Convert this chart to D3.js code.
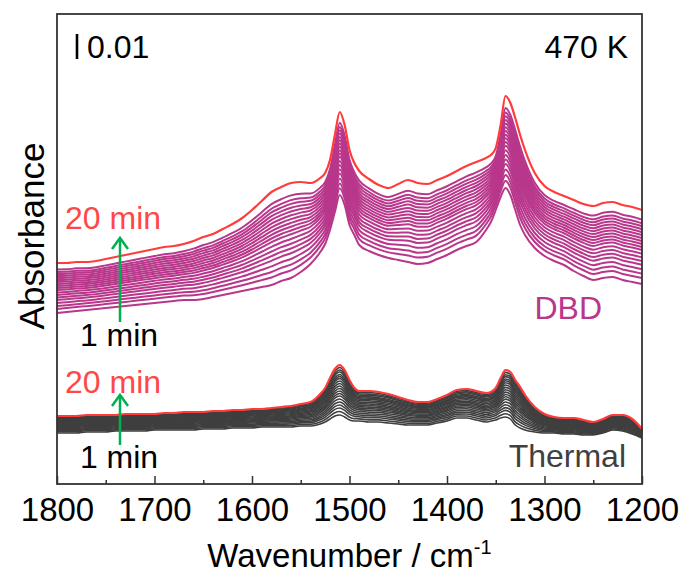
<!DOCTYPE html>
<html>
<head>
<meta charset="utf-8">
<script src="https://cdn.jsdelivr.net/npm/d3@7/dist/d3.min.js"></script>
<style>
  html, body { margin: 0; padding: 0; background: #fff; }
  svg { display: block; font-family: "Liberation Sans", Arial, sans-serif; }
</style>
</head>
<body>
<svg id="chart" width="684" height="579"></svg>
<script>
// Wavenumber grid (cm-1) shared by every spectrum
const wavenumbers = [1800, 1790, 1780, 1770, 1760, 1750, 1740, 1730, 1720, 1710,
  1700, 1690, 1680, 1670, 1660, 1650, 1640, 1630, 1620, 1610,
  1600, 1590, 1580, 1570, 1560, 1550, 1540, 1530, 1525, 1520,
  1515, 1510, 1505, 1500, 1495, 1490, 1480, 1470, 1460, 1450,
  1440, 1430, 1420, 1410, 1400, 1390, 1380, 1370, 1360, 1355,
  1350, 1345, 1340, 1335, 1330, 1325, 1320, 1310, 1300, 1290,
  1280, 1270, 1260, 1250, 1240, 1230, 1220, 1210, 1200];

// DBD, 1 min spectrum (absorbance, stacked offset)
const dbdFirst = [0.0684, 0.0688, 0.0692, 0.0696, 0.0700, 0.0704, 0.0708, 0.0712, 0.0716, 0.0720,
  0.0724, 0.0728, 0.0732, 0.0736, 0.0736, 0.0740, 0.0748, 0.0756, 0.0764, 0.0772,
  0.0780, 0.0788, 0.0796, 0.0812, 0.0824, 0.0848, 0.0880, 0.0928, 0.0960, 0.1016,
  0.1088, 0.1156, 0.1116, 0.1036, 0.0996, 0.0956, 0.0932, 0.0916, 0.0904, 0.0896,
  0.0888, 0.0880, 0.0884, 0.0900, 0.0916, 0.0936, 0.0952, 0.0968, 0.1016, 0.1048,
  0.1096, 0.1148, 0.1184, 0.1156, 0.1096, 0.1036, 0.0996, 0.0944, 0.0912, 0.0892,
  0.0876, 0.0852, 0.0832, 0.0816, 0.0824, 0.0828, 0.0816, 0.0808, 0.0800];

// DBD, 20 min spectrum
const dbdLast = [0.0884, 0.0884, 0.0888, 0.0888, 0.0892, 0.0900, 0.0908, 0.0916, 0.0924, 0.0932,
  0.0940, 0.0948, 0.0952, 0.0960, 0.0972, 0.0988, 0.1000, 0.1020, 0.1040, 0.1064,
  0.1096, 0.1132, 0.1168, 0.1188, 0.1204, 0.1208, 0.1204, 0.1224, 0.1244, 0.1296,
  0.1396, 0.1488, 0.1436, 0.1336, 0.1284, 0.1252, 0.1220, 0.1196, 0.1184, 0.1200,
  0.1216, 0.1204, 0.1200, 0.1216, 0.1232, 0.1252, 0.1272, 0.1288, 0.1304, 0.1316,
  0.1344, 0.1436, 0.1552, 0.1524, 0.1464, 0.1396, 0.1336, 0.1244, 0.1192, 0.1168,
  0.1152, 0.1136, 0.1120, 0.1112, 0.1124, 0.1128, 0.1116, 0.1108, 0.1096];

// Thermal, 1 min spectrum
const thermalFirst = [0.0204, 0.0204, 0.0204, 0.0208, 0.0208, 0.0208, 0.0212, 0.0212, 0.0212, 0.0212,
  0.0216, 0.0216, 0.0216, 0.0216, 0.0216, 0.0220, 0.0220, 0.0220, 0.0224, 0.0224,
  0.0224, 0.0228, 0.0228, 0.0228, 0.0228, 0.0232, 0.0232, 0.0240, 0.0248, 0.0260,
  0.0272, 0.0276, 0.0268, 0.0256, 0.0252, 0.0252, 0.0248, 0.0248, 0.0244, 0.0240,
  0.0236, 0.0236, 0.0236, 0.0244, 0.0252, 0.0264, 0.0264, 0.0256, 0.0248, 0.0252,
  0.0256, 0.0264, 0.0268, 0.0260, 0.0236, 0.0224, 0.0216, 0.0208, 0.0204, 0.0204,
  0.0200, 0.0200, 0.0196, 0.0196, 0.0204, 0.0216, 0.0212, 0.0200, 0.0184];

// Thermal, 20 min spectrum
const thermalLast = [0.0272, 0.0272, 0.0272, 0.0276, 0.0276, 0.0276, 0.0276, 0.0280, 0.0280, 0.0280,
  0.0280, 0.0284, 0.0284, 0.0288, 0.0288, 0.0288, 0.0292, 0.0292, 0.0296, 0.0296,
  0.0300, 0.0300, 0.0304, 0.0308, 0.0312, 0.0320, 0.0328, 0.0360, 0.0384, 0.0424,
  0.0460, 0.0476, 0.0456, 0.0416, 0.0384, 0.0372, 0.0372, 0.0368, 0.0360, 0.0348,
  0.0336, 0.0328, 0.0328, 0.0340, 0.0356, 0.0376, 0.0380, 0.0372, 0.0364, 0.0368,
  0.0384, 0.0424, 0.0456, 0.0448, 0.0416, 0.0388, 0.0356, 0.0308, 0.0280, 0.0268,
  0.0264, 0.0264, 0.0256, 0.0248, 0.0260, 0.0276, 0.0276, 0.0260, 0.0220];

// Relative growth of each scan (1..20 min) between the first and last spectrum
const dbdLevels = [0, 0.08, 0.14, 0.20, 0.26, 0.31, 0.36, 0.41, 0.46, 0.50,
  0.54, 0.58, 0.62, 0.66, 0.70, 0.74, 0.78, 0.82, 0.87, 1];
const thermalLevels = [0, 0.07, 0.14, 0.20, 0.26, 0.32, 0.38, 0.43, 0.48, 0.53,
  0.58, 0.63, 0.68, 0.73, 0.77, 0.81, 0.86, 0.90, 0.95, 1];

const majorTicks = [1800, 1700, 1600, 1500, 1400, 1300, 1200];
const minorTicks = [1750, 1650, 1550, 1450, 1350, 1250];

const colors = {
  dbd: "#b8378b",
  thermal: "#3f3f3f",
  last: "#ff3b3b",
  lastText: "#ff4747",
  arrow: "#00b050",
  frame: "#333333"
};

const W = 684, H = 579;
const margin = { left: 57, right: 42, top: 14, bottom: 95 };
const svg = d3.select("#chart");

const x = d3.scaleLinear().domain([1800, 1200]).range([margin.left, W - margin.right]);
const y = d3.scaleLinear().domain([0, 0.188]).range([H - margin.bottom, margin.top]);

function buildScans(first, last, levels) {
  return levels.map(f => wavenumbers.map((w, i) => ({ w, a: first[i] + f * (last[i] - first[i]) })));
}

const line = d3.line().x(d => x(d.w)).y(d => y(d.a)).curve(d3.curveMonotoneX);

const plot = svg.append("g");

function drawFamily(scans, color, width) {
  const n = scans.length;
  plot.append("g").selectAll("path")
    .data(scans.slice(0, n - 1))
    .join("path")
    .attr("d", line)
    .attr("fill", "none")
    .attr("stroke", color)
    .attr("stroke-width", width)
    .attr("stroke-linejoin", "round");
  plot.append("path")
    .attr("d", line(scans[n - 1]))
    .attr("fill", "none")
    .attr("stroke", colors.last)
    .attr("stroke-width", 2.2)
    .attr("stroke-linejoin", "round");
}

drawFamily(buildScans(thermalFirst, thermalLast, thermalLevels), colors.thermal, 1.6);
drawFamily(buildScans(dbdFirst, dbdLast, dbdLevels), colors.dbd, 2);

// Bottom axis: inward major and minor ticks
const x0 = x.range()[0], x1 = x.range()[1];
const yb = y.range()[0], yt = y.range()[1];

const axisMajor = d3.axisBottom(x).tickValues(majorTicks).tickSize(-8).tickFormat(d3.format("d"));
const gx = svg.append("g").attr("transform", `translate(0,${yb})`).call(axisMajor);
gx.select(".domain").remove();
gx.selectAll(".tick line").attr("stroke", colors.frame).attr("stroke-width", 1.5);
gx.selectAll(".tick text")
  .attr("y", 37).attr("dy", null)
  .attr("fill", "#000")
  .style("font-size", "33px")
  .style("font-family", "'Liberation Sans', Arial, sans-serif");

const axisMinor = d3.axisBottom(x).tickValues(minorTicks).tickSize(-4).tickFormat("");
const gm = svg.append("g").attr("transform", `translate(0,${yb})`).call(axisMinor);
gm.select(".domain").remove();
gm.selectAll(".tick line").attr("stroke", colors.frame).attr("stroke-width", 1.5);

// Frame
svg.append("rect")
  .attr("x", x0).attr("y", yt)
  .attr("width", x1 - x0).attr("height", yb - yt)
  .attr("fill", "none").attr("stroke", colors.frame).attr("stroke-width", 1.8);

// Axis titles
const xt = svg.append("text")
  .attr("x", (x0 + x1) / 2).attr("y", 567)
  .attr("text-anchor", "middle")
  .style("font-size", "33px");
xt.append("tspan").text("Wavenumber / cm");
xt.append("tspan").attr("dy", -13).style("font-size", "20px").text("-1");

svg.append("text")
  .attr("transform", "translate(44,236) rotate(-90)")
  .attr("text-anchor", "middle")
  .style("font-size", "35px")
  .text("Absorbance");

// Scale bar for 0.01 absorbance
const barBase = 0.1700;
svg.append("line")
  .attr("x1", 77).attr("x2", 77)
  .attr("y1", y(barBase)).attr("y2", y(barBase + 0.01))
  .attr("stroke", "#000").attr("stroke-width", 2.6);
svg.append("text").attr("x", 87).attr("y", 58).style("font-size", "32px").text("0.01");
svg.append("text").attr("x", 628).attr("y", 58).attr("text-anchor", "end").style("font-size", "32px").text("470 K");

// Time labels and arrows
function timeMarker(topY, bottomY, labelTopY, labelBottomY) {
  svg.append("text").attr("x", 65).attr("y", labelTopY)
    .attr("fill", colors.lastText).style("font-size", "32px").text("20 min");
  svg.append("text").attr("x", 119).attr("y", labelBottomY).attr("text-anchor", "middle")
    .attr("fill", "#000").style("font-size", "32px").text("1 min");
  svg.append("line").attr("x1", 120).attr("x2", 120).attr("y1", bottomY).attr("y2", topY + 1)
    .attr("stroke", colors.arrow).attr("stroke-width", 2.5);
  svg.append("path")
    .attr("d", `M112,${topY + 11} L120,${topY} L128,${topY + 11}`)
    .attr("fill", "none").attr("stroke", colors.arrow).attr("stroke-width", 2.5)
    .attr("stroke-linejoin", "miter");
}
timeMarker(238, 322, 229, 346);
timeMarker(395, 445, 393, 468);

svg.append("text").attr("x", 602).attr("y", 319).attr("text-anchor", "end")
  .attr("fill", colors.dbd).style("font-size", "32px").text("DBD");
svg.append("text").attr("x", 626).attr("y", 467).attr("text-anchor", "end")
  .attr("fill", "#404040").style("font-size", "32px").text("Thermal");
</script>
</body>
</html>
